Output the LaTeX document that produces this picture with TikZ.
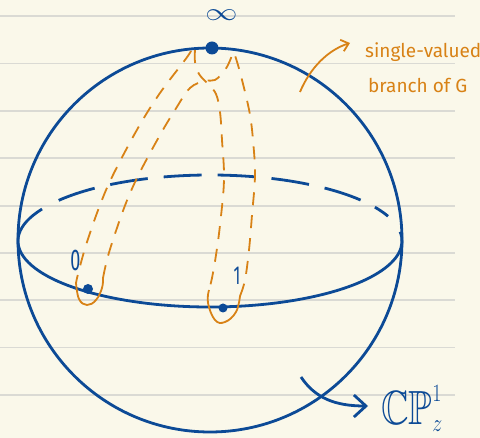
\documentclass[tikz,border=0pt]{standalone}
\usepackage{amssymb}
\usepackage{fontspec}
\setsansfont{Fira Sans}
\usetikzlibrary{arrows.meta}
\definecolor{bgc}{RGB}{250,248,234}
\definecolor{rulec}{RGB}{218,218,212}
\definecolor{sphblue}{RGB}{12,74,150}
\definecolor{cutorange}{RGB}{216,130,22}
\tikzset{
  ruleline/.style={draw=rulec, line width=1.4pt},
  blueline/.style={draw=sphblue, line width=2.8pt},
  backline/.style={blueline, dash pattern=on 38pt off 16pt},
  cutdash/.style={draw=cutorange, line width=1.8pt, dash pattern=on 13pt off 10pt},
  cutsolid/.style={draw=cutorange, line width=1.8pt},
  dotnode/.style={circle, fill=sphblue, inner sep=0pt},
  bluelabel/.style={text=sphblue, inner sep=0pt},
  orangelabel/.style={text=cutorange, inner sep=0pt, font=\sffamily\fontsize{19}{23}\selectfont}
}
\begin{document}
\begin{tikzpicture}[x=1pt,y=-1pt]
\useasboundingbox (0,0) rectangle (480,438);
\fill[bgc] (0,0) rectangle (480,438);
\foreach \yy in {16,63.5,111,158,206,253,300,347.5,395}
  \draw[ruleline] (0,\yy) -- (455,\yy);

% sphere
\draw[blueline] (210,240) circle[radius=192];
% equator front
\draw[blueline] (210,241) ++(209:192 and 66) arc[start angle=209, end angle=-8, x radius=192, y radius=66];
% equator back
\draw[backline] (210,241) ++(218:192 and 66) arc[start angle=218, end angle=338, x radius=192, y radius=66];

% cut loop around infinity -- 0
\draw[cutdash] plot[smooth, tension=0.6] coordinates {(191,51) (185,60) (160,93) (138,128) (113,175) (100,205) (87,242) (79,270) (76,283)};
\draw[cutsolid] plot[smooth, tension=0.7] coordinates {(76,283) (79,299) (87,305) (96,300) (102,288) (103,278)};
\draw[cutdash] plot[smooth, tension=0.6] coordinates {(103,278) (108,256) (118,225) (128,198) (140,172) (160,135) (175,110) (190,88) (205,81) (215,80) (225,70) (231,58) (233,50)};

% cut loop around infinity -- 1
\draw[cutdash] plot[smooth, tension=0.6] coordinates {(195,50) (195,62) (199,74) (208,84) (216,94) (220,112) (222,140) (224,180) (220,225) (216,255) (212,278) (209,290)};
\draw[cutsolid] plot[smooth, tension=0.7] coordinates {(209,290) (208,303) (215,320) (225,322) (236,312) (240,296)};
\draw[cutdash] plot[smooth, tension=0.6] coordinates {(240,296) (245,280) (249,250) (252,215) (255,175) (253,140) (250,115) (245,92) (238,65) (233,50)};

% points
\node[dotnode, minimum size=13pt] (inf) at (212,48) {};
\node[dotnode, minimum size=10pt] (zero) at (88,289) {};
\node[dotnode, minimum size=9pt] (one) at (223,308) {};

% labels
\node[bluelabel, font=\fontsize{20}{24}\selectfont] (infl) at (221.5,15.5) {\scalebox{1.55}[1.2]{$\infty$}};
\node[bluelabel, font=\sffamily\fontsize{30}{34}\selectfont] (zerol) at (75.5,260) {\scalebox{0.6}[1]{0}};
\node[bluelabel, font=\sffamily\fontsize{26}{30}\selectfont] (onel) at (237,276) {\scalebox{0.6}[1]{1}};
\node[bluelabel, anchor=base west, font=\fontsize{48}{52}\selectfont] (cp) at (381,425) {\scalebox{0.8}[1]{$\mathbb{CP}^{\scriptscriptstyle 1}_{\scriptstyle z}$}};

\node[orangelabel, anchor=base west] (lab1) at (365,58) {single-valued};
\node[orangelabel, anchor=base west] (lab2) at (368,93) {branch of G};

% arrows
\coordinate (oa1) at (300,92);
\coordinate (oa2) at (350,43);
\draw[cutsolid, -{Straight Barb[length=7pt,width=12pt]}] (oa1) .. controls (310,68) and (328,50) .. (oa2);
\coordinate (ba1) at (301,377);
\coordinate (ba2) at (368,406);
\draw[blueline, -{Straight Barb[length=12pt,width=22pt]}] (ba1) .. controls (315,398) and (335,406) .. (ba2);
\end{tikzpicture}
\end{document}
